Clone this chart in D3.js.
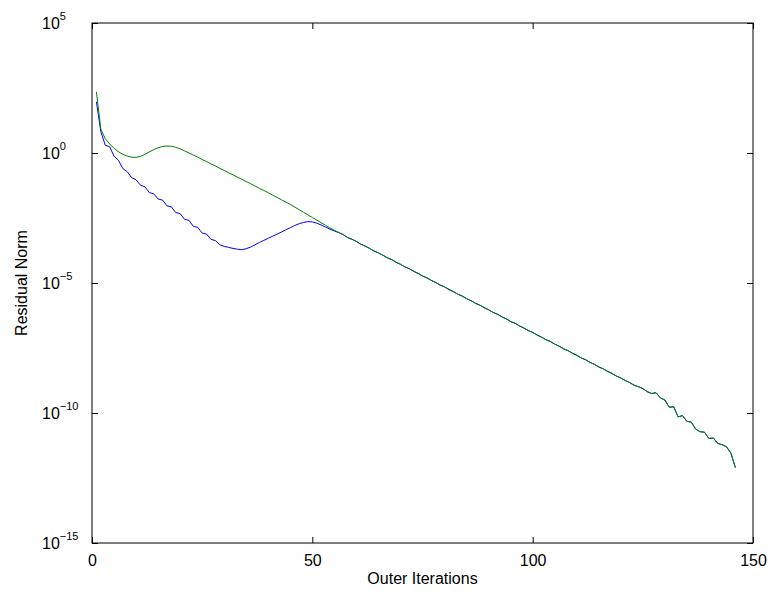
<!DOCTYPE html>
<html>
<head>
<meta charset="utf-8">
<script src="https://cdn.jsdelivr.net/npm/d3@7"></script>
<style>
  html, body { margin: 0; padding: 0; background: #fff; }
  svg { display: block; }
  text { font-family: "Liberation Sans", Arial, Helvetica, sans-serif; fill: #000; }
</style>
</head>
<body>
<svg id="chart" width="775" height="599"></svg>
<script>
// ---- data (log10 of residual norm, per outer iteration) ----
// Blue series, iterations 1..55
const blueHeadLog10 = [1.97, 0.82, 0.30, 0.24, -0.12, -0.28, -0.60, -0.72, -0.95, -1.03,
  -1.24, -1.30, -1.52, -1.57, -1.77, -1.81, -2.03, -2.07, -2.29, -2.33,
  -2.55, -2.59, -2.82, -2.86, -3.08, -3.12, -3.32, -3.37, -3.53, -3.59,
  -3.63, -3.67, -3.70, -3.72, -3.68, -3.62, -3.53, -3.44, -3.36, -3.28,
  -3.20, -3.12, -3.04, -2.95, -2.87, -2.79, -2.72, -2.67, -2.64, -2.65,
  -2.70, -2.77, -2.85, -2.93, -3.00];
// Green series, iterations 1..55
const greenHeadLog10 = [2.35, 0.92, 0.55, 0.35, 0.18, 0.05, -0.05, -0.12, -0.16, -0.17,
  -0.13, -0.05, 0.04, 0.13, 0.20, 0.25, 0.27, 0.26, 0.22, 0.16,
  0.08, 0.00, -0.08, -0.16, -0.25, -0.33, -0.42, -0.50, -0.59, -0.67,
  -0.76, -0.84, -0.93, -1.01, -1.10, -1.18, -1.27, -1.36, -1.44, -1.53,
  -1.62, -1.71, -1.80, -1.89, -1.98, -2.08, -2.18, -2.28, -2.38, -2.48,
  -2.58, -2.68, -2.78, -2.88, -2.97];
// Shared tail of both series, iterations 56..146
const sharedTailLog10 = [-3.06, -3.14, -3.25, -3.32, -3.40, -3.51, -3.58, -3.67, -3.77, -3.84,
  -3.93, -4.03, -4.10, -4.20, -4.28, -4.38, -4.45, -4.55, -4.63, -4.73,
  -4.80, -4.90, -4.98, -5.08, -5.15, -5.25, -5.33, -5.43, -5.50, -5.60,
  -5.68, -5.78, -5.85, -5.95, -6.03, -6.13, -6.20, -6.30, -6.38, -6.48,
  -6.55, -6.65, -6.73, -6.83, -6.90, -7.00, -7.08, -7.18, -7.25, -7.35,
  -7.43, -7.53, -7.60, -7.70, -7.78, -7.88, -7.95, -8.05, -8.13, -8.23,
  -8.30, -8.40, -8.48, -8.58, -8.65, -8.75, -8.83, -8.93, -8.99, -9.06,
  -9.18, -9.25, -9.22, -9.42, -9.50, -9.78, -9.76, -10.15, -10.10, -10.32,
  -10.35, -10.62, -10.72, -10.74, -10.98, -10.96, -11.17, -11.22, -11.30, -11.55,
  -12.10];
const firstIteration = 1;

const xTicks = [0, 50, 100, 150];
const xTickLabels = ["0", "50", "100", "150"];
const yTicks = [1e5, 1e0, 1e-5, 1e-10, 1e-15];
const yTickBase = "10";
const yTickExponents = ["5", "0", "\u22125", "\u221210", "\u221215"];
const xLabel = "Outer Iterations";
const yLabel = "Residual Norm";
const seriesColors = ["#0000ff", "#008000"];

// ---- layout ----
const L = 92, R = 753, T = 23, B = 543;
const svg = d3.select("#chart");
svg.append("rect").attr("width", 775).attr("height", 599).attr("fill", "#fff");

const x = d3.scaleLinear().domain([0, 150]).range([L, R]);
const y = d3.scaleLog().domain([1e-15, 1e5]).range([B, T]);

function toPoints(logs, start) {
  return logs.map((v, i) => ({ it: start + i, v: Math.pow(10, v) }));
}
const blue = toPoints(blueHeadLog10.concat(sharedTailLog10), firstIteration);
const green = toPoints(greenHeadLog10.concat(sharedTailLog10), firstIteration);

const line = d3.line().x(d => x(d.it)).y(d => y(d.v));

const plot = svg.append("g");
[blue, green].forEach((s, i) => {
  plot.append("path").datum(s)
    .attr("fill", "none")
    .attr("stroke", seriesColors[i])
    .attr("stroke-width", 1)
    .attr("stroke-linejoin", "round")
    .attr("d", line);
});

// ---- axes ----
const tickLen = 6;
const fontSize = 16;
const xAxis = d3.axisBottom(x).tickValues(xTicks)
  .tickFormat((d, i) => xTickLabels[i]).tickSizeInner(-tickLen).tickSizeOuter(0).tickPadding(12);
const gx = svg.append("g").attr("transform", `translate(0,${B})`).call(xAxis);
gx.select(".domain").remove();
gx.selectAll("text").attr("font-size", fontSize).attr("font-family", null);

const gxt = svg.append("g").attr("transform", `translate(0,${T})`)
  .call(d3.axisTop(x).tickValues(xTicks).tickFormat("").tickSizeInner(-tickLen).tickSizeOuter(0));
gxt.select(".domain").remove();

const gyl = svg.append("g").attr("transform", `translate(${L},0)`)
  .call(d3.axisLeft(y).tickValues(yTicks).tickFormat("").tickSizeInner(-tickLen).tickSizeOuter(0));
gyl.select(".domain").remove();
const gyr = svg.append("g").attr("transform", `translate(${R},0)`)
  .call(d3.axisRight(y).tickValues(yTicks).tickFormat("").tickSizeInner(-tickLen).tickSizeOuter(0));
gyr.select(".domain").remove();
svg.selectAll(".tick line").attr("stroke", "#000");

// y tick labels with superscripts
yTicks.forEach((v, i) => {
  const t = svg.append("text")
    .attr("x", 42).attr("y", y(v) + 6)
    .attr("font-size", fontSize);
  t.append("tspan").text(yTickBase);
  t.append("tspan").attr("dy", -9).attr("font-size", 11).text(yTickExponents[i]);
});

// box
svg.append("rect").attr("x", L).attr("y", T).attr("width", R - L).attr("height", B - T)
  .attr("fill", "none").attr("stroke", "#000").attr("stroke-width", 1);

// axis labels
svg.append("text").attr("x", (L + R) / 2).attr("y", 584)
  .attr("text-anchor", "middle").attr("font-size", fontSize).text(xLabel);
svg.append("text").attr("transform", `translate(27,${(T + B) / 2}) rotate(-90)`)
  .attr("text-anchor", "middle").attr("font-size", fontSize).text(yLabel);
</script>
</body>
</html>
